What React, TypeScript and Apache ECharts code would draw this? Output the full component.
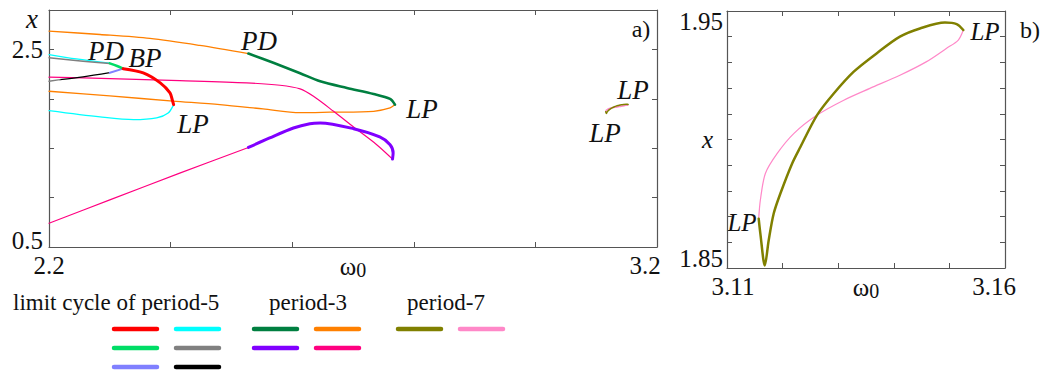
import React, { useEffect, useRef } from "react";
import * as echarts from "echarts";

// ---------- tick labels ----------
const xTicksA = ["2.2", "3.2"];
const yTicksA = ["0.5", "2.5"];
const xTicksB = ["3.11", "3.16"];
const yTicksB = ["1.85", "1.95"];

// ---------- period-5 branches (panel a) ----------
const p5Cyan1 = [[2.2, 2.449], [2.245, 2.405], [2.3, 2.362]];
const p5Gray1 = [[2.2, 2.416], [2.256, 2.381], [2.3, 2.358]];
const p5Green = [[2.3, 2.36], [2.312, 2.333], [2.322, 2.306]];
const p5Red = [[2.322, 2.306], [2.355, 2.263], [2.383, 2.162], [2.399, 2.06], [2.403, 1.985], [2.405, 1.942]];
const p5Cyan2 = [[2.405, 1.942], [2.396, 1.857], [2.377, 1.807], [2.339, 1.789], [2.284, 1.817], [2.2, 1.881]];
const p5Lavender = [[2.322, 2.306], [2.3, 2.265]];
const p5Black = [[2.3, 2.265], [2.256, 2.223], [2.218, 2.195]];
const p5Gray2 = [[2.218, 2.195], [2.2, 2.178]];

// ---------- period-3 branches (panel a) ----------
const p3OrangeUpper = [[2.2, 2.686], [2.284, 2.652], [2.366, 2.612], [2.448, 2.541], [2.528, 2.459]];
const p3Green = [[2.528, 2.459], [2.569, 2.365], [2.613, 2.26], [2.646, 2.178], [2.69, 2.111], [2.734, 2.05], [2.761, 2.0], [2.769, 1.942]];
const p3OrangeLower = [[2.769, 1.942], [2.761, 1.908], [2.734, 1.874], [2.662, 1.865], [2.613, 1.86], [2.552, 1.898], [2.481, 1.942], [2.404, 1.978], [2.3, 2.03], [2.2, 2.077]];
const p3MagentaUpper = [[2.2, 2.22], [2.3, 2.206], [2.415, 2.185], [2.525, 2.162], [2.58, 2.138], [2.613, 2.101], [2.635, 2.026], [2.668, 1.874], [2.701, 1.715], [2.739, 1.536], [2.765, 1.39]];
const p3Purple = [[2.528, 1.508], [2.563, 1.604], [2.602, 1.705], [2.629, 1.749], [2.646, 1.756], [2.701, 1.698], [2.744, 1.614], [2.761, 1.536], [2.766, 1.451], [2.765, 1.39]];
const p3MagentaLower = [[2.2, 0.741], [2.3, 0.977], [2.415, 1.248], [2.528, 1.508]];

// ---------- period-7 branches (panels a and b) ----------
const p7Olive = [[3.1157, 1.8692], [3.116, 1.8634], [3.1168, 1.851], [3.1175, 1.8608], [3.1184, 1.8712], [3.1196, 1.879], [3.1217, 1.8906], [3.1232, 1.8971], [3.1262, 1.9095], [3.1292, 1.9179], [3.1328, 1.9264], [3.1369, 1.9335], [3.1411, 1.94], [3.1447, 1.9432], [3.1492, 1.9455], [3.1513, 1.9449], [3.1525, 1.9426]];
const p7Pink = [[3.1157, 1.8692], [3.116, 1.8764], [3.1169, 1.8868], [3.119, 1.8945], [3.122, 1.9023], [3.1262, 1.9095], [3.131, 1.9153], [3.1357, 1.9199], [3.1411, 1.925], [3.1459, 1.9303], [3.1495, 1.9355], [3.1516, 1.9387], [3.1525, 1.9426]];

const SERIF = "Liberation Serif";
const FRAME = "#555";

function App() {
  const ref = useRef<HTMLDivElement>(null);
  useEffect(() => {
    if (!ref.current) return;
    const chart = echarts.init(ref.current, null, { renderer: "svg" });

    const line = (data: number[][], color: string, width: number, xi: number, yi: number, z = 2) => ({
      type: "line",
      data,
      xAxisIndex: xi,
      yAxisIndex: yi,
      showSymbol: false,
      symbol: "none",
      smooth: 0.3,
      z,
      silent: true,
      lineStyle: { color, width, cap: "round", join: "round" },
    });

    const lbl = (list: string[], digits: number) => (v: number) => {
      const s = v.toFixed(digits);
      if (s === list[0]) return `{lo|${s}}`;
      if (s === list[1]) return `{hi|${s}}`;
      return "";
    };

    const baseAxis = (extra: any) => ({
      type: "value",
      axisLine: { show: true, onZero: false, lineStyle: { color: FRAME, width: 1.2 } },
      axisTick: { show: true, inside: true, length: 5, lineStyle: { color: FRAME, width: 1 } },
      splitLine: { show: false },
      nameMoveOverlap: false,
      ...extra,
    });

    const tok = (pad: number[]) => ({ fontFamily: SERIF, fontSize: 25, color: "#111", padding: pad });

    const labelStyle = (lo: number[], hi: number[], margin: number) => ({
      show: true,
      margin,
      color: "#111",
      fontFamily: SERIF,
      fontSize: 25,
      rich: { lo: tok(lo), hi: tok(hi) },
    });

    const omegaName = {
      color: "#111",
      fontFamily: SERIF,
      rich: {
        w: { fontFamily: SERIF, fontSize: 25, color: "#111" },
        s: { fontFamily: SERIF, fontSize: 20, color: "#111", padding: [8, 0, 0, 0] },
      },
    };

    const txt = (text: string, x: number, y: number, size: number, italic: boolean, align = "center") => ({
      type: "text",
      x,
      y,
      silent: true,
      style: {
        text,
        fontFamily: SERIF,
        fontSize: size,
        fontStyle: italic ? "italic" : "normal",
        fill: "#111",
        align,
        textAlign: align,
        verticalAlign: "middle",
        textVerticalAlign: "middle",
      },
    });

    const seg = (x1: number, y: number, x2: number, color: string) => ({
      type: "line",
      silent: true,
      shape: { x1, y1: y, x2, y2: y },
      style: { stroke: color, lineWidth: 4.5, lineCap: "round" },
    });

    const option: any = {
      animation: false,
      backgroundColor: "#fff",
      textStyle: { fontFamily: SERIF },
      grid: [
        { left: 49, top: 10, width: 608, height: 237 },
        { left: 727, top: 11, width: 278, height: 257 },
      ],
      xAxis: [
        baseAxis({
          gridIndex: 0, min: 2.2, max: 3.2, interval: 0.2, position: "bottom",
          axisLabel: { ...labelStyle([0, 0, 0, 0], [0, 24, 0, 0], 6), formatter: lbl(xTicksA, 1) },
          name: "{w|ω}{s|0}", nameLocation: "middle", nameGap: 5,
          nameTextStyle: omegaName,
        }),
        baseAxis({ gridIndex: 0, min: 2.2, max: 3.2, interval: 0.2, position: "top", axisLabel: { show: false } }),
        baseAxis({
          gridIndex: 1, min: 3.11, max: 3.16, interval: 0.01, position: "bottom",
          axisLabel: { ...labelStyle([0, 0, 0, 12], [0, 22, 0, 0], 6), formatter: lbl(xTicksB, 2) },
          name: "{w|ω}{s|0}", nameLocation: "middle", nameGap: 5,
          nameTextStyle: omegaName,
        }),
        baseAxis({ gridIndex: 1, min: 3.11, max: 3.16, interval: 0.01, position: "top", axisLabel: { show: false } }),
      ],
      yAxis: [
        baseAxis({
          gridIndex: 0, min: 0.5, max: 2.9, interval: 0.5, position: "left",
          axisLabel: { ...labelStyle([0, 0, 14, 0], [0, 0, 0, 0], 6), formatter: lbl(yTicksA, 1) },
        }),
        baseAxis({ gridIndex: 0, min: 0.5, max: 2.9, interval: 0.5, position: "right", axisLabel: { show: false } }),
        baseAxis({
          gridIndex: 1, min: 1.85, max: 1.95, interval: 0.01, position: "left",
          axisLabel: { ...labelStyle([0, 0, 20, 0], [20, 0, 0, 0], 4), formatter: lbl(yTicksB, 2) },
          name: "x", nameLocation: "middle", nameGap: 14, nameRotate: 0,
          nameTextStyle: { fontFamily: SERIF, fontStyle: "italic", fontSize: 25, color: "#111", align: "right" },
        }),
        baseAxis({ gridIndex: 1, min: 1.85, max: 1.95, interval: 0.01, position: "right", axisLabel: { show: false } }),
      ],
      series: [
        // period-3
        line(p3OrangeUpper, "#FF8000", 1.3, 0, 0),
        line(p3OrangeLower, "#FF8000", 1.3, 0, 0),
        line(p3MagentaUpper, "#FF0080", 1.2, 0, 0),
        line(p3MagentaLower, "#FF0080", 1.2, 0, 0),
        line(p3Green, "#007F40", 2.6, 0, 0, 3),
        line(p3Purple, "#8000FF", 3, 0, 0, 3),
        // period-5
        line(p5Cyan1, "#00FFFF", 1.3, 0, 0),
        line(p5Gray1, "#808080", 1.4, 0, 0),
        line(p5Cyan2, "#00FFFF", 1.3, 0, 0),
        line(p5Black, "#000000", 1.2, 0, 0),
        line(p5Gray2, "#808080", 1.4, 0, 0),
        line(p5Lavender, "#8080FF", 2, 0, 0, 3),
        line(p5Green, "#00DD66", 2.5, 0, 0, 3),
        line(p5Red, "#FF0000", 3, 0, 0, 3),
        // period-7 in a
        line(p7Pink, "#FF88C8", 1.5, 0, 0),
        line(p7Olive, "#808000", 1.5, 0, 0, 3),
        // period-7 in b
        line(p7Pink, "#FF88C8", 1.2, 2, 2),
        line(p7Olive, "#808000", 2.5, 2, 2, 3),
      ],
      graphic: [
        txt("x", 32, 19, 27, true),
        txt("PD", 106, 51, 27, true),
        txt("BP", 145, 58, 27, true),
        txt("PD", 259, 41, 27, true),
        txt("LP", 193, 124, 27, true),
        txt("LP", 422, 109, 27, true),
        txt("LP", 633, 90, 27, true),
        txt("LP", 605, 133, 27, true),
        txt("a)", 641, 29, 24, false),
        txt("LP", 985, 31, 25, true),
        txt("LP", 742, 222, 25, true),
        txt("b)", 1030, 30, 24, false),
        // legend
        txt("limit cycle of period-5", 13, 302, 23, false, "left"),
        txt("period-3", 308, 302, 23, false),
        txt("period-7", 446, 302, 23, false),
        seg(114, 329, 157, "#FF0000"),
        seg(176, 329, 219, "#00FFFF"),
        seg(114, 348, 157, "#00DD66"),
        seg(176, 348, 219, "#808080"),
        seg(114, 367, 157, "#8080FF"),
        seg(176, 367, 219, "#000000"),
        seg(254, 329, 297, "#007F40"),
        seg(316, 329, 359, "#FF8000"),
        seg(254, 348, 297, "#8000FF"),
        seg(316, 348, 359, "#FF0080"),
        seg(398, 329, 441, "#808000"),
        seg(460, 329, 503, "#FF88C8"),
      ],
    };

    chart.setOption(option);
    return () => chart.dispose();
  }, []);

  return (
    <div
      ref={ref}
      style={{ position: "fixed", left: 0, top: 0, width: 1043, height: 374, background: "#fff" }}
    />
  );
}

export default App;
